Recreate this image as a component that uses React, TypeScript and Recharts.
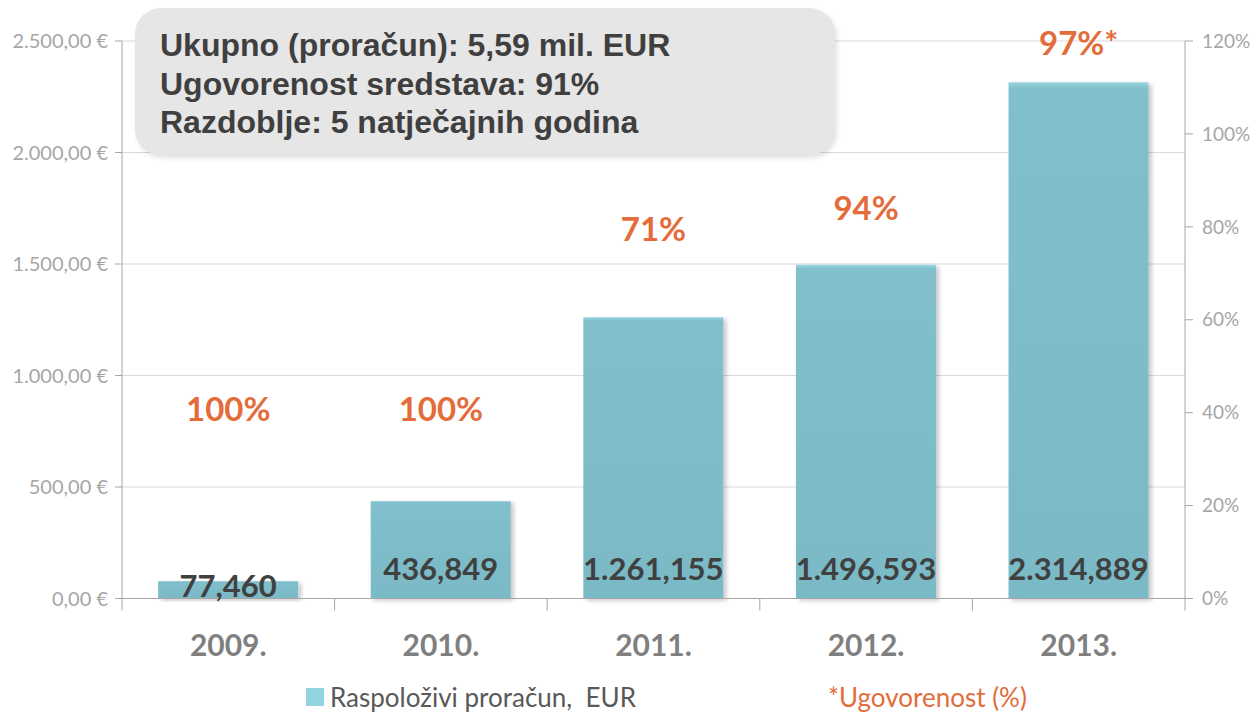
import React from 'react';
import { ComposedChart, Bar, Line, XAxis, YAxis, CartesianGrid, Legend, LabelList } from 'recharts';

// Data (budget in thousand EUR)
const years = ['2009.', '2010.', '2011.', '2012.', '2013.'];
const budget = [77.46, 436.849, 1261.155, 1496.593, 2314.889];
const budgetLabels = ['77,460', '436,849', '1.261,155', '1.496,593', '2.314,889'];
const contracted = [1.0, 1.0, 0.71, 0.94, 0.97];
const contractedLabels = ['100%', '100%', '71%', '94%', '97%*'];
// height (in left-axis units) at which each percentage label sits in the original
const contractedLabelLevel = [855, 855, 1660, 1755, 2497];
const leftTicks = [0, 500, 1000, 1500, 2000, 2500];
const rightTicks = [0, 0.2, 0.4, 0.6, 0.8, 1.0, 1.2];
const summaryLines = [
  'Ukupno (proračun): 5,59 mil. EUR',
  'Ugovorenost sredstava: 91%',
  'Razdoblje: 5 natječajnih godina',
];
const legendBudget = 'Raspoloživi proračun,  EUR';
const legendContracted = '*Ugovorenost (%)';

const data = years.map((y, i) => ({
  year: y,
  budget: budget[i],
  budgetLabel: budgetLabels[i],
  contracted: contracted[i],
  pctLabel: contractedLabels[i],
  level: contractedLabelLevel[i],
}));

const AXIS = '#a6a6a6';
const ORANGE = '#e36c3a';
const CAT_TICK_GAP = 36;
const CAT_TICK_LEN = 12;

const fmtEur = (v: number) => {
  const [int, dec] = v.toFixed(2).split('.');
  const withSep = int.replace(/\B(?=(\d{3})+(?!\d))/g, '.');
  return `${withSep},${dec} €`;
};
const fmtPct = (v: number) => `${Math.round(v * 100)}%`;

const BarShape = (p: any) => (
  <rect x={p.x} y={p.y} width={p.width} height={p.height} fill="url(#barGrad)" filter="url(#barShadow)" />
);

const BarValueLabel = (p: any) => {
  const { x, y, width, height, value } = p;
  const cy = y + height - Math.min(31, height / 2 + 4.5);
  return (
    <text x={x + width / 2} y={cy} textAnchor="middle" dominantBaseline="central"
      fontFamily="Lato" fontWeight={700} fontSize={31} fill="#404040">{value}</text>
  );
};

const PctLabel = (p: any) => {
  const { x, y, value } = p;
  return (
    <text x={x} y={y} textAnchor="middle" dominantBaseline="central"
      fontFamily="Lato" fontWeight={700} fontSize={33} fill={ORANGE}>{value}</text>
  );
};

// category label plus tick marks on the category boundaries
const CategoryTick = (p: any) => {
  const { x, y, payload, index } = p;
  const off = payload && typeof payload.offset === 'number' ? payload.offset : 0;
  const top = y - CAT_TICK_GAP;
  return (
    <g>
      <line x1={x - off} x2={x - off} y1={top} y2={top + CAT_TICK_LEN} stroke={AXIS} />
      {index === years.length - 1 && (
        <line x1={x + off} x2={x + off} y1={top} y2={top + CAT_TICK_LEN} stroke={AXIS} />
      )}
      <text x={x} y={y} dy="0.71em" textAnchor="middle" fill="#7f7f7f"
        fontFamily="Lato" fontWeight={700} fontSize={30}>{payload.value}</text>
    </g>
  );
};

const LegendContent = () => (
  <div style={{ display: 'flex', alignItems: 'center', height: 36, paddingLeft: 306, fontFamily: 'Lato', fontSize: 26, whiteSpace: 'pre' }}>
    <span style={{ display: 'inline-block', width: 18, height: 18, background: '#92d3df', marginRight: 6 }} />
    <span style={{ color: '#595959' }}>{legendBudget}</span>
    <span style={{ color: ORANGE, marginLeft: 192 }}>{legendContracted}</span>
  </div>
);

export default function App() {
  return (
    <div style={{ position: 'absolute', left: 0, top: 0, width: 1250, height: 715, background: '#fff' }}>
      <ComposedChart width={1250} height={715} data={data} margin={{ top: 41, right: 0, bottom: 0, left: 0 }} barCategoryGap="17%">
        <defs>
          <linearGradient id="barGrad" x1="0" y1="0" x2="0" y2="1">
            <stop offset="0" stopColor="#9ad6e2" />
            <stop offset="0.012" stopColor="#80bfcb" />
            <stop offset="1" stopColor="#7ab9c6" />
          </linearGradient>
          <filter id="barShadow" x="-10%" y="-10%" width="130%" height="130%">
            <feDropShadow dx="3" dy="2" stdDeviation="2" floodColor="#000" floodOpacity="0.22" />
          </filter>
        </defs>
        <CartesianGrid vertical={false} stroke="#d9d9d9" yAxisId="left" xAxisId="cat" />
        <XAxis xAxisId="cat" dataKey="year" height={80.5} tickLine={false} axisLine={{ stroke: AXIS }}
          tickSize={0} tickMargin={CAT_TICK_GAP} interval={0} tick={CategoryTick} />
        <YAxis yAxisId="left" width={122} domain={[0, 2500]} ticks={leftTicks} interval={0}
          tickFormatter={fmtEur} tickSize={7} tickMargin={7}
          axisLine={{ stroke: AXIS }} tickLine={{ stroke: AXIS }}
          tick={{ fill: AXIS, fontFamily: 'Lato', fontSize: 20 }} />
        <YAxis yAxisId="right" orientation="right" width={65} domain={[0, 1.2]} ticks={rightTicks} interval={0}
          tickFormatter={fmtPct} tickSize={8} tickMargin={9}
          axisLine={{ stroke: AXIS }} tickLine={{ stroke: AXIS }}
          tick={{ fill: AXIS, fontFamily: 'Lato', fontSize: 19 }} />
        <Legend verticalAlign="bottom" height={36} content={LegendContent} />
        <Bar xAxisId="cat" yAxisId="left" dataKey="budget" name={legendBudget} shape={BarShape} isAnimationActive={false}>
          <LabelList dataKey="budgetLabel" content={BarValueLabel} />
        </Bar>
        <Line xAxisId="cat" yAxisId="right" dataKey="contracted" name={legendContracted} stroke="none"
          dot={false} activeDot={false} isAnimationActive={false} />
        <Line xAxisId="cat" yAxisId="left" dataKey="level" stroke="none" dot={false} activeDot={false}
          legendType="none" isAnimationActive={false}>
          <LabelList dataKey="pctLabel" content={PctLabel} />
        </Line>
      </ComposedChart>
      <div style={{
        position: 'absolute', left: 135, top: 8, width: 700, height: 147, boxSizing: 'border-box',
        background: '#e6e6e6', borderRadius: 26, boxShadow: '2px 3px 5px rgba(0,0,0,0.12)',
        paddingLeft: 25, paddingTop: 18, fontFamily: '"Liberation Sans", Arial, sans-serif',
        fontWeight: 700, fontSize: 32, lineHeight: '38.5px', color: '#3f3f3f',
      }}>
        {summaryLines.map((l) => <div key={l}>{l}</div>)}
      </div>
    </div>
  );
}
